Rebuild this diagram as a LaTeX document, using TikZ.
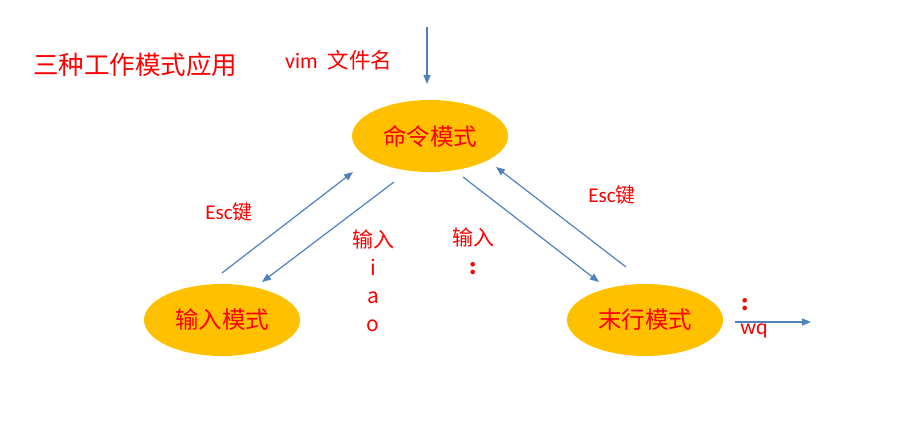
\documentclass[tikz,border=0pt]{standalone}
\usepackage{fontspec}
\setmainfont{Carlito}
\newfontfamily\cjk{Noto Sans CJK SC}
\usetikzlibrary{arrows.meta,shapes.geometric}
\definecolor{gold}{HTML}{FFC000}
\definecolor{arrowblue}{HTML}{4F81BD}
\definecolor{txtred}{HTML}{FF0000}
\begin{document}
\begin{tikzpicture}[x=1pt,y=-1pt,
  mode/.style={ellipse,fill=gold,minimum width=156pt,minimum height=72pt,inner sep=0pt,text=txtred,font=\cjk\fontsize{23.5}{25}\selectfont},
  lbl/.style={text=txtred,inner sep=0pt,font=\fontsize{21}{24}\selectfont},
  conn/.style={draw=arrowblue,line width=1.2pt,-{Triangle[length=9pt,width=7pt]}}]
\useasboundingbox (0,0) rectangle (909,427);
\node[mode] (cmd) at (430,136) {\raisebox{-4pt}{命令模式}};
\node[mode] (ins) at (222,320) {输入模式};
\node[mode] (last) at (645,320) {末行模式};
\node[lbl,anchor=west,font=\cjk\fontsize{25.5}{28}\selectfont] (title) at (33,65) {三种工作模式应用};
\node[lbl,anchor=west,font=\fontsize{22}{24}\selectfont] (vim) at (285,60) {vim\hspace{10pt}{\cjk\fontsize{21.5}{24}\selectfont 文件名}};
\coordinate (topA) at (427,27);
\coordinate (topB) at (427,84);
\draw[conn] (topA) -- (topB);
\coordinate (e1a) at (222,273); \coordinate (e1b) at (353,172);
\coordinate (i1a) at (394,182); \coordinate (i1b) at (262,282);
\coordinate (c1a) at (463,177); \coordinate (c1b) at (599,282);
\coordinate (e2a) at (626,267); \coordinate (e2b) at (496,167);
\coordinate (wqa) at (735,322); \coordinate (wqb) at (811,322);
\draw[conn] (e1a) -- (e1b);
\draw[conn] (i1a) -- (i1b);
\draw[conn] (c1a) -- (c1b);
\draw[conn] (e2a) -- (e2b);
\draw[conn] (wqa) -- (wqb);
\node[lbl] (escL) at (229,212) {Esc{\cjk\fontsize{20}{22}\selectfont 键}};
\node[lbl] (escR) at (612,195) {Esc{\cjk\fontsize{20}{22}\selectfont 键}};
\node[lbl,align=center,font=\cjk\fontsize{21}{28}\selectfont] (insL) at (373,281) {输入\\i\\a\\o};
\node[lbl,align=center,font=\cjk\bfseries\fontsize{21}{29}\selectfont] (insR) at (473,251) {\mdseries 输入\\:};
\node[lbl,font=\cjk\bfseries\fontsize{21}{22}\selectfont] (col) at (745,305) {:};
\node[lbl,font=\fontsize{22}{24}\selectfont] (wq) at (754,331) {wq};
\end{tikzpicture}
\end{document}
